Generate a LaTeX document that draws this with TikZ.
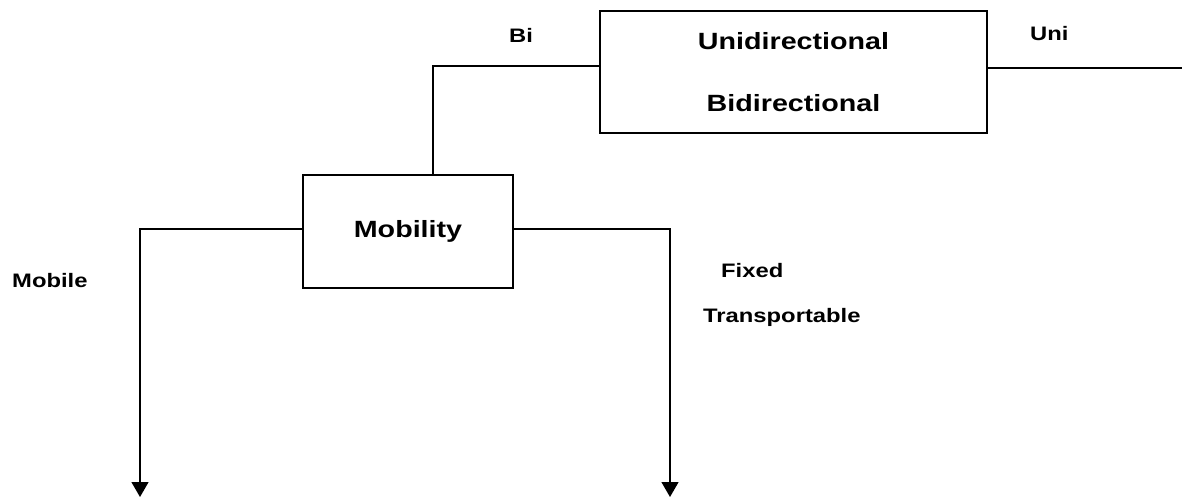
\documentclass[tikz,border=0pt]{standalone}
\usepackage{fontspec}
\setmainfont{Liberation Sans}
\newfontfamily\wideface[FakeStretch=1.22]{Liberation Sans}
\usetikzlibrary{arrows.meta}
\begin{document}
\begin{tikzpicture}[x=1pt,y=-1pt,
  boxstyle/.style={draw,line width=1.3pt,rectangle,inner sep=0pt},
  conn/.style={line width=1.3pt},
  arr/.style={conn,-{Triangle[width=17pt,length=15pt]}},
  lbl/.style={anchor=base west,inner sep=0pt,font=\wideface\bfseries\fontsize{19.5}{23}\selectfont},
  bigtxt/.style={font=\wideface\bfseries\fontsize{23.5}{62}\selectfont,align=center}]
\useasboundingbox (0,0) rectangle (1182,497);

% boxes
\node[boxstyle,bigtxt,minimum width=387pt,minimum height=122pt] (ud) at (793.5,72)
  {Unidirectional\\Bidirectional};
\node[boxstyle,font=\wideface\bfseries\fontsize{23.5}{28}\selectfont,minimum width=210pt,minimum height=113pt] (mob) at (408,231.5) {Mobility};

% free ends
\coordinate (uend) at (1182,68);
\coordinate (lend) at (140,497);
\coordinate (rend) at (670,497);

% connectors
\draw[conn] ([yshift=6pt]ud.west) -| ([xshift=25pt]mob.north);
\draw[conn] ([yshift=4pt]ud.east) -- (uend);
\draw[arr] ([yshift=2.5pt]mob.west) -| (lend);
\draw[arr] ([yshift=2.5pt]mob.east) -| (rend);

% labels
\node[lbl] (bi) at (509,43) {Bi};
\node[lbl] (uni) at (1030,41) {Uni};
\node[lbl] (mobile) at (12,287) {Mobile};
\node[lbl] (fixed) at (721,277) {Fixed};
\node[lbl] (transp) at (703,322) {Transportable};
\end{tikzpicture}
\end{document}
